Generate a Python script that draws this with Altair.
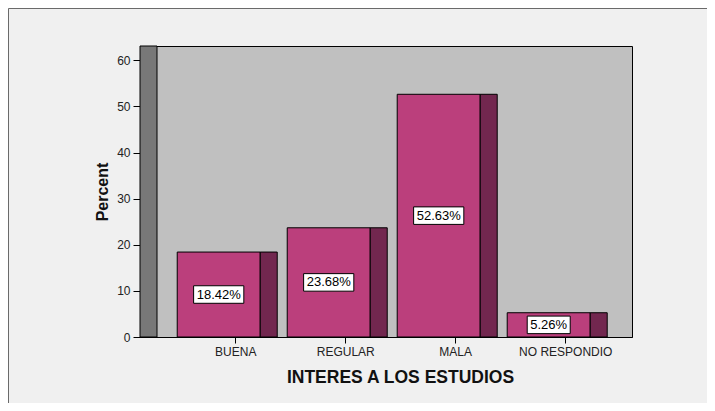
import altair as alt
import pandas as pd

categories = ["BUENA", "REGULAR", "MALA", "NO RESPONDIO"]
percents = [18.42, 23.68, 52.63, 5.26]
y_ticks = [0, 10, 20, 30, 40, 50, 60]

df = pd.DataFrame({"cat": categories, "pct": percents})
df["label"] = [f"{v:.2f}%" for v in percents]

W, H = 492, 291
PAD_L, PAD_T, PAD_R, PAD_B = 132, 38, 75, 66
FONT = "Liberation Sans"
FRONT = "#bb3f7c"
SIDE = "#72274f"

xenc = alt.X(
    "cat:N",
    sort=categories,
    scale=alt.Scale(paddingInner=0, paddingOuter=0.2364, align=0.783),
    axis=alt.Axis(
        title="INTERES A LOS ESTUDIOS",
        labelAngle=0,
        labelFont=FONT,
        labelFontSize=12,
        labelColor="#222222",
        labelPadding=3,
        tickSize=6,
        tickColor="#000000",
        domainColor="#000000",
        titleFont=FONT,
        titleFontSize=17.5,
        titleFontWeight="bold",
        titleColor="#111111",
        titleX=260,
        titleY=45,
        titleAlign="center",
        titleBaseline="alphabetic",
    ),
)
yscale = alt.Scale(domain=[0, 63.1], nice=False, zero=True)
yenc = alt.Y(
    "pct:Q",
    scale=yscale,
    axis=alt.Axis(
        title="Percent",
        values=y_ticks,
        grid=False,
        labelFont=FONT,
        labelFontSize=12,
        labelColor="#222222",
        labelPadding=3,
        tickSize=7,
        tickColor="#000000",
        domainColor="#000000",
        titleFont=FONT,
        titleFontSize=16,
        titleFontWeight="bold",
        titleColor="#111111",
        titleAngle=270,
        titleX=-38,
        titleY=145.5,
        titleAlign="center",
        titleBaseline="middle",
    ),
)

base = alt.Chart(df)
one = pd.DataFrame({"k": [0]})

# outer frame (top and left edges of the chart window)
frame_left = alt.Chart(one).mark_rule(color="#6a6a6a", strokeWidth=1).encode(
    x=alt.value(-PAD_L + 0.5), y=alt.value(-PAD_T + 0.5), y2=alt.value(H + PAD_B)
)
frame_top = alt.Chart(one).mark_rule(color="#6a6a6a", strokeWidth=1).encode(
    x=alt.value(-PAD_L + 0.5), x2=alt.value(W + PAD_R), y=alt.value(-PAD_T + 0.5)
)

wall = alt.Chart(one).mark_rect(
    color="#787878", stroke="#000000", strokeWidth=1
).encode(x=alt.value(0), x2=alt.value(17), y=alt.value(0), y2=alt.value(H))

front = base.mark_bar(
    width=83, xOffset=-17, color=FRONT, stroke="#000000", strokeWidth=1
).encode(x=xenc, y=yenc)

side = base.mark_bar(
    width=17, xOffset=33, color=SIDE, stroke="#000000", strokeWidth=1
).encode(x=alt.X("cat:N", sort=categories), y=alt.Y("pct:Q"))

boxes = base.transform_calculate(
    lo="datum.pct / 2 - 1.9",
    hi="datum.pct / 2 + 1.9",
    bw="7.2 * length(datum.label) + 7",
).mark_bar(
    xOffset=-17, color="#ffffff", stroke="#000000", strokeWidth=1
).encode(
    x=alt.X("cat:N", sort=categories),
    y=alt.Y("lo:Q"),
    y2="hi:Q",
    size=alt.Size("bw:Q", scale=None, legend=None),
)

texts = base.transform_calculate(mid="datum.pct / 2").mark_text(
    dx=-17, font=FONT, fontSize=13, color="#000000", baseline="middle", align="center"
).encode(x=alt.X("cat:N", sort=categories), y=alt.Y("mid:Q"), text="label:N")

chart = (
    alt.layer(wall, front, side, boxes, texts, frame_left, frame_top)
    .properties(
        width=W,
        height=H,
        background="#f0f0f0",
        padding={"left": PAD_L, "top": PAD_T, "right": PAD_R, "bottom": PAD_B},
        autosize=alt.AutoSizeParams(type="none"),
    )
    .configure_view(fill="#c0c0c0", stroke="#000000", strokeWidth=1)
)

chart.save("out.html", embed_options={"renderer": "svg", "actions": False})
